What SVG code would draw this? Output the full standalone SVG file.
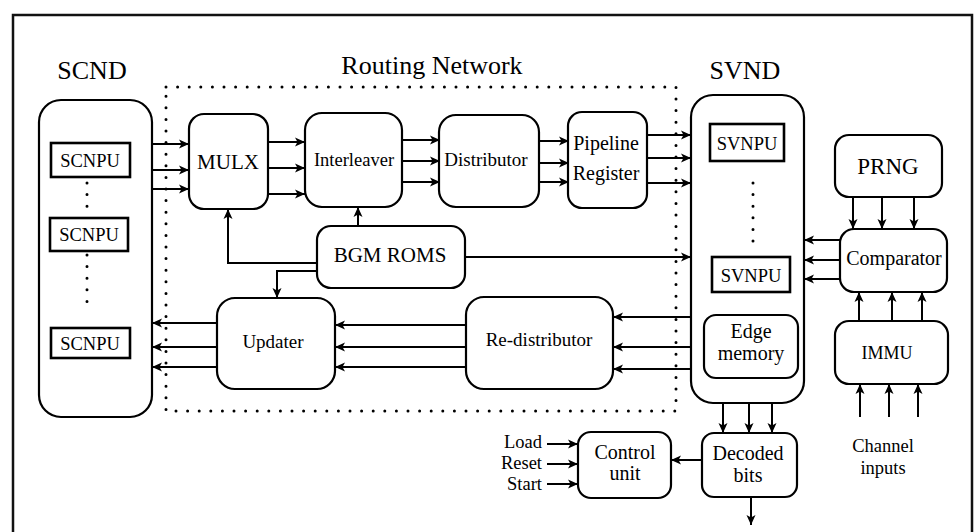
<svg xmlns="http://www.w3.org/2000/svg" width="975" height="532" viewBox="0 0 975 532">
<defs>
<marker id="ah" markerUnits="userSpaceOnUse" markerWidth="12" markerHeight="10" refX="10" refY="4.5" orient="auto" overflow="visible">
<path d="M0,0 L10,4.5 L0,9 L2.5,4.5 Z" fill="#000"/>
</marker>
<style>
.box{fill:#fff;stroke:#000;stroke-width:2.2}
.pu{fill:#fff;stroke:#000;stroke-width:2.6}
.dot{fill:none;stroke:#000;stroke-width:3;stroke-linecap:round;stroke-dasharray:0 11.6}
.c{fill:none;stroke:#000;stroke-width:2;marker-end:url(#ah)}
text{font-family:Liberation Serif, Times New Roman, Tinos, Times, Nimbus Roman, DejaVu Serif, serif;fill:#000;text-anchor:middle}
.big{font-size:26px}
.m{font-size:20px}
.s{font-size:19px}
.xs{font-size:18.5px}
</style>
</defs>
<rect width="975" height="532" fill="#fff"/>
<path d="M13,532 V15 H972 V532" fill="none" stroke="#111" stroke-width="2.5"/>

<g id="routing-network">
<rect x="166" y="87" width="510" height="324" class="dot"/>
<text x="432" y="74" class="big">Routing Network</text>
</g>

<g id="scnd">
<text x="92" y="79" class="big">SCND</text>
<rect x="39" y="100" width="113" height="317" rx="22" class="box"/>
<rect x="51" y="143" width="79" height="34" class="pu"/>
<text x="90" y="167" class="xs">SCNPU</text>
<rect x="50" y="218" width="78" height="33" class="pu"/>
<text x="89" y="241" class="xs">SCNPU</text>
<rect x="51" y="328" width="79" height="30" class="pu"/>
<text x="90" y="350" class="xs">SCNPU</text>
<line x1="87" y1="183" x2="87" y2="217" class="dot"/>
<line x1="87" y1="255" x2="87" y2="313" class="dot"/>
</g>

<g id="mulx"><rect x="189" y="114" width="79" height="95" rx="15" class="box"/><text x="228" y="169" style="font-size:21px">MULX</text></g>
<g id="interleaver"><rect x="305" y="113" width="97" height="94" rx="17" class="box"/><text x="354" y="166" class="xs">Interleaver</text></g>
<g id="distributor"><rect x="439" y="115" width="100" height="92" rx="17" class="box"/><text x="486" y="166" class="s">Distributor</text></g>
<g id="pipeline"><rect x="568" y="112" width="79" height="96" rx="14" class="box"/><text x="606" y="150" class="m">Pipeline</text><text x="606" y="180" class="m">Register</text></g>
<g id="bgm-roms"><rect x="317" y="226" width="148" height="62" rx="14" class="box"/><text x="390" y="262" style="font-size:21px">BGM ROMS</text></g>
<g id="updater"><rect x="217" y="298" width="118" height="91" rx="18" class="box"/><text x="273" y="348" class="s">Updater</text></g>
<g id="redistributor"><rect x="466" y="297" width="147" height="92" rx="18" class="box"/><text x="539" y="346" class="s">Re-distributor</text></g>

<g id="svnd">
<text x="745" y="79" class="big">SVND</text>
<rect x="691" y="95" width="113" height="308" rx="22" class="box"/>
<rect x="710" y="124" width="74" height="37" class="pu"/>
<text x="747" y="150" class="xs">SVNPU</text>
<rect x="712" y="257" width="78" height="35" class="pu"/>
<text x="751" y="282" class="xs">SVNPU</text>
<line x1="753" y1="183" x2="753" y2="243" class="dot"/>
</g>
<g id="edge-memory"><rect x="704" y="315" width="94" height="63" rx="12" class="box"/><text x="751" y="338" class="m">Edge</text><text x="751" y="360" class="m">memory</text></g>

<g id="prng"><rect x="835" y="135" width="107" height="62" rx="14" class="box"/><text x="888" y="174" style="font-size:23px">PRNG</text></g>
<g id="comparator"><rect x="840" y="229" width="107" height="63" rx="14" class="box"/><text x="894" y="265" class="m">Comparator</text></g>
<g id="immu"><rect x="835" y="321" width="113" height="63" rx="14" class="box"/><text x="887" y="359" style="font-size:18px">IMMU</text></g>
<g id="channel-inputs"><text x="883" y="452" class="xs">Channel</text><text x="883" y="474" class="xs">inputs</text></g>
<g id="decoded-bits"><rect x="702" y="433" width="95" height="64" rx="12" class="box"/><text x="748" y="460" class="m">Decoded</text><text x="748" y="482" class="m">bits</text></g>
<g id="control-unit"><rect x="578" y="432" width="93" height="66" rx="13" class="box"/><text x="625" y="459" class="m">Control</text><text x="625" y="480" class="m">unit</text></g>
<g id="inputs">
<text x="542" y="448" style="text-anchor:end;font-size:18.5px">Load</text>
<text x="542" y="469" style="text-anchor:end;font-size:18.5px">Reset</text>
<text x="542" y="490" style="text-anchor:end;font-size:18.5px">Start</text>
</g>

<g id="connectors">
<line x1="152" y1="144" x2="189" y2="144" class="c"/>
<line x1="152" y1="170" x2="189" y2="170" class="c"/>
<line x1="152" y1="189" x2="189" y2="189" class="c"/>
<line x1="268" y1="142" x2="305" y2="142" class="c"/>
<line x1="268" y1="168" x2="305" y2="168" class="c"/>
<line x1="268" y1="194" x2="305" y2="194" class="c"/>
<line x1="402" y1="140" x2="440" y2="140" class="c"/>
<line x1="402" y1="161" x2="440" y2="161" class="c"/>
<line x1="402" y1="182" x2="440" y2="182" class="c"/>
<line x1="539" y1="141" x2="569" y2="141" class="c"/>
<line x1="539" y1="163" x2="569" y2="163" class="c"/>
<line x1="539" y1="182" x2="569" y2="182" class="c"/>
<line x1="647" y1="135" x2="691" y2="135" class="c"/>
<line x1="647" y1="158" x2="691" y2="158" class="c"/>
<line x1="647" y1="183" x2="691" y2="183" class="c"/>
<line x1="358" y1="226" x2="358" y2="207" class="c"/>
<path d="M317,263 H228 V209" class="c"/>
<path d="M317,271 H277 V298" class="c"/>
<line x1="465" y1="257" x2="691" y2="257" class="c"/>
<line x1="217" y1="323" x2="152" y2="323" class="c"/>
<line x1="217" y1="347" x2="152" y2="347" class="c"/>
<line x1="217" y1="367" x2="152" y2="367" class="c"/>
<line x1="466" y1="325" x2="335" y2="325" class="c"/>
<line x1="466" y1="347" x2="335" y2="347" class="c"/>
<line x1="466" y1="367" x2="335" y2="367" class="c"/>
<line x1="691" y1="317" x2="613" y2="317" class="c"/>
<line x1="691" y1="347" x2="613" y2="347" class="c"/>
<line x1="691" y1="369" x2="613" y2="369" class="c"/>
<line x1="840" y1="240" x2="804" y2="240" class="c"/>
<line x1="840" y1="260" x2="804" y2="260" class="c"/>
<line x1="840" y1="279" x2="804" y2="279" class="c"/>
<line x1="853" y1="197" x2="853" y2="229" class="c"/>
<line x1="882" y1="197" x2="882" y2="229" class="c"/>
<line x1="914" y1="197" x2="914" y2="229" class="c"/>
<line x1="859" y1="321" x2="859" y2="292" class="c"/>
<line x1="892" y1="321" x2="892" y2="292" class="c"/>
<line x1="922" y1="321" x2="922" y2="292" class="c"/>
<line x1="860" y1="417" x2="860" y2="384" class="c"/>
<line x1="889" y1="417" x2="889" y2="384" class="c"/>
<line x1="918" y1="417" x2="918" y2="384" class="c"/>
<line x1="723" y1="403" x2="723" y2="433" class="c"/>
<line x1="749" y1="403" x2="749" y2="433" class="c"/>
<line x1="772" y1="403" x2="772" y2="433" class="c"/>
<line x1="751" y1="497" x2="751" y2="525" class="c"/>
<line x1="702" y1="460" x2="671" y2="460" class="c"/>
<line x1="547" y1="444" x2="578" y2="444" class="c"/>
<line x1="547" y1="464" x2="578" y2="464" class="c"/>
<line x1="547" y1="484" x2="578" y2="484" class="c"/>
</g>
</svg>
